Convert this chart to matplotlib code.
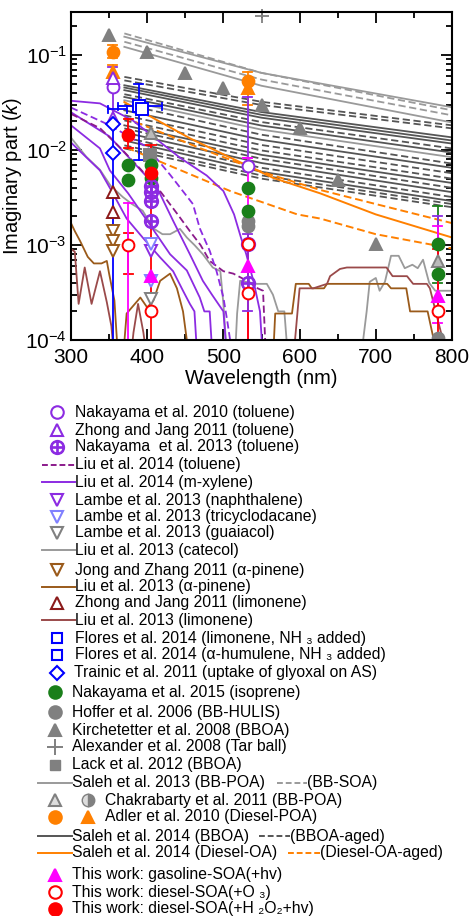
import numpy as np
import matplotlib.pyplot as plt

plt.rcParams['font.family'] = ['Liberation Sans', 'DejaVu Sans']
plt.rcParams['mathtext.fontset'] = 'custom'
plt.rcParams['mathtext.rm'] = 'Liberation Sans'
plt.rcParams['mathtext.it'] = 'Liberation Sans:italic'
plt.rcParams['mathtext.default'] = 'regular'

VIO = '#8c2be2'
DPUR = '#8b1a8b'
LBLUE = '#8080ff'
GRAY = '#808080'
LGRAY = '#9a9a9a'
DGRAY = '#555555'
BROWN = '#9a5a1a'
MAROON = '#8b1a1a'
LIMO = '#9a4a4a'
BLUE = '#0000ff'
GREEN = '#1a7f1a'
ORANGE = '#ff8000'
MAG = '#ff00ff'
RED = '#ff0000'

# ---------------- point data (wavelength nm, k) ----------------
nak10_lam = [355, 532]
nak10_k = [0.046, 0.0068]
zhong_tol_lam = [355, 355]
zhong_tol_k = [0.057, 0.0215]
nak13_lam = [405, 405, 405, 405, 532, 532]
nak13_k = [0.0042, 0.0036, 0.0029, 0.0018, 0.00103, 0.0004]
lambe_naph_lam = [405]
lambe_naph_k = [0.00087]
lambe_tcd_lam = [405, 405]
lambe_tcd_k = [0.00102, 0.00042]
lambe_guai_lam = [405]
lambe_guai_k = [0.00027]
jong_lam = [355, 355, 355]
jong_k = [0.00142, 0.00111, 0.00087]
zhong_lim_lam = [355, 355]
zhong_lim_k = [0.0036, 0.0022]
flores_lam = [389, 393]
flores_k = [0.029, 0.027]
flores_xlo = [362, 349]
flores_xhi = [419, 373]
trainic_lam = [355, 355]
trainic_k = [0.019, 0.0094]
nak15_lam = [375, 375, 405, 405, 532, 532, 781, 781]
nak15_k = [0.0069, 0.0048, 0.0069, 0.0051, 0.0040, 0.0023, 0.00103, 0.0005]
hoffer_lam = [532, 532, 781]
hoffer_k = [0.0018, 0.0016, 0.000105]
kirch_lam = [350, 400, 450, 500, 550, 600, 650, 700]
kirch_k = [0.162, 0.107, 0.064, 0.045, 0.030, 0.017, 0.0048, 0.00103]
alex_lam = [550]
alex_k = [0.26]
lack_lam = [404]
lack_k = [0.0088]
chak_lam = [405, 781]
chak_k = [0.015, 0.00068]
adler_c_lam = [355, 532]
adler_c_k = [0.108, 0.053]
adler_t_lam = [355, 532]
adler_t_k = [0.066, 0.045]
gas_lam = [375, 405, 532, 781]
gas_k = [0.00006, 0.00047, 0.0006, 0.00029]
dso3_lam = [375, 405, 532, 532, 781]
dso3_k = [0.001, 0.0002, 0.00103, 0.00031, 0.0002]
dsh_lam = [375, 405]
dsh_k = [0.0143, 0.0058]

# vertical error bars: wavelength, low, high, colour key
bar_lam = [355, 355, 355, 355, 375, 375, 375, 389, 405, 532, 532, 532, 532, 532, 781, 781, 781, 781]
bar_lo = [0.094, 0.058, 0.019, 0.00001, 0.0105, 0.0005, 0.00001, 0.0078, 0.00001,
          0.030, 0.0083, 0.00001, 0.00001, 0.0002, 0.0004, 0.0002, 0.00015, 0.00001]
bar_hi = [0.127, 0.079, 0.075, 0.019, 0.021, 0.00135, 0.0028, 0.05, 0.0112,
          0.066, 0.036, 0.0083, 0.0023, 0.0013, 0.0026, 0.0020, 0.0016, 0.0009]
bar_col = ['o', 'o', 'v', 'b', 'r', 'r', 'm', 'b', 'r', 'o', 'v', 'm', 'r', 'v', 'g', 'v', 'm', 'r']

# ---------------- line data ----------------
catecol_lam = [300, 320, 338, 352, 368, 380, 394, 408, 420, 430, 443, 452, 462, 473, 486, 496, 500,
               505, 515, 518, 522, 544, 557, 565, 572, 580, 585, 680, 688, 692, 700, 705, 712,
               720, 730, 738, 748, 755, 762, 770, 778, 800]
catecol_k = [0.0135, 0.0085, 0.0062, 0.0042, 0.0032, 0.0027, 0.0023, 0.0015, 0.0013, 0.0013, 0.00148,
             0.0012, 0.001, 0.0008, 0.00058, 0.00053, 0.00024, 0.00006, 0.00006, 0.00019, 0.00042,
             0.00039, 0.00039, 0.0003, 0.0002, 0.0002, 0.00006, 0.00006, 0.0002, 0.00041, 0.00045,
             0.00033, 0.00041, 0.00077, 0.00077, 0.00057, 0.00062, 0.00057, 0.0007, 0.0004, 0.00033, 0.00033]
apin_lam = [300, 305, 312, 322, 330, 340, 347, 350, 357, 362, 368, 373, 391, 400, 408, 417, 430, 439,
            447, 452, 456, 565, 568, 590, 595, 612, 616, 632, 636, 715, 720, 740, 745, 768, 775, 780]
apin_k = [0.0017, 0.0014, 0.0011, 0.00075, 0.00064, 0.00064, 0.00068, 0.0005, 0.00026, 0.00006,
          0.00006, 0.00019, 0.00028, 0.00022, 0.00026, 0.00042, 0.0005, 0.00035, 0.0002, 0.0001,
          0.00006, 0.00006, 0.00019, 0.00019, 0.00039, 0.00039, 0.00035, 0.00035, 0.00039, 0.00039,
          0.00035, 0.00035, 0.0002, 0.0002, 0.00011, 0.00006]
limo_lam = [300, 305, 310, 318, 327, 338, 347, 353, 357, 378, 382, 388, 395, 400, 590, 594, 600, 618,
            636, 640, 653, 662, 714, 722, 741, 749, 767, 771, 780, 788]
limo_k = [0.00091, 0.00085, 0.00024, 0.00058, 0.00024, 0.00053, 0.00025, 0.00014, 0.00006, 0.00006,
          0.00012, 0.00024, 0.00012, 0.00006, 0.00006, 0.0001, 0.00035, 0.00035, 0.00039, 0.00047,
          0.00056, 0.00058, 0.00058, 0.00047, 0.00047, 0.00039, 0.00039, 0.00035, 0.00018, 0.0001]

# Liu 2014 m-xylene (solid)
mx1_lam = [300, 338, 381, 443, 478, 500, 514, 523, 530, 540, 548, 552]
mx1_k = [0.033, 0.031, 0.0205, 0.0083, 0.0054, 0.0037, 0.0021, 0.0012, 0.0008, 0.0004, 0.0002, 0.00006]
mx2_lam = [300, 338, 351, 375, 400, 430, 452, 469, 475, 482, 486]
mx2_k = [0.0182, 0.0104, 0.0061, 0.0035, 0.0018, 0.0008, 0.00054, 0.00028, 0.0002, 0.0002, 0.00006]
mx3_lam = [300, 338, 355, 373, 394, 417, 434, 447, 456, 462, 466]
mx3_k = [0.012, 0.0061, 0.0035, 0.0019, 0.0012, 0.00074, 0.00053, 0.00033, 0.00024, 0.0002, 0.00006]
mx4_lam = [300, 350, 413, 434, 456, 473, 485, 500, 505]
mx4_k = [0.025, 0.014, 0.004, 0.0018, 0.0008, 0.00042, 0.0003, 0.0002, 0.00006]
# Liu 2014 toluene (dashed)
tol1_lam = [300, 338, 365, 392, 418, 440, 456, 470, 482, 500, 513, 531, 545, 552, 556]
tol1_k = [0.024, 0.017, 0.0105, 0.0062, 0.0036, 0.0021, 0.0014, 0.001, 0.00068, 0.00053, 0.0005,
          0.00042, 0.00035, 0.00033, 0.00006]
tol2_lam = [300, 351, 400, 430, 460, 469, 482, 491, 500, 505, 513]
tol2_k = [0.028, 0.0182, 0.0107, 0.0055, 0.0027, 0.0015, 0.00087, 0.00053, 0.00028, 0.00016, 0.00006]

# Saleh power-law lines: k at 370, 550, 800 nm
sal_lam = [370, 550, 800]
sal_k370 = [0.169, 0.156, 0.138, 0.122, 0.0589, 0.0541, 0.0481, 0.0455, 0.0427, 0.0387, 0.0362, 0.0334,
            0.0303, 0.0262, 0.0232, 0.0205, 0.0182, 0.0169, 0.0153, 0.0136, 0.0126, 0.0112, 0.0104]
sal_k550 = [0.0649, 0.0649, 0.0552, 0.0475, 0.0322, 0.0298, 0.0251, 0.0235, 0.0219, 0.0197, 0.0181, 0.0164,
            0.0145, 0.0128, 0.0113, 0.0099, 0.0089, 0.0081, 0.0073, 0.0065, 0.0059, 0.0054, 0.0050]
sal_k800 = [0.0262, 0.0282, 0.0232, 0.0195, 0.0182, 0.0169, 0.0136, 0.0126, 0.0117, 0.0104, 0.0094, 0.0084,
            0.0072, 0.0065, 0.0057, 0.0050, 0.0045, 0.0040, 0.0036, 0.0032, 0.0029, 0.0027, 0.0025]
sal_style = ['ld', 'ls', 'ld', 'ls', 'dd', 'dd', 'ds', 'ds', 'ds', 'dd', 'ds', 'ls',
             'dd', 'ds', 'dd', 'dd', 'ds', 'dd', 'ds', 'dd', 'ds', 'dd', 'dd']

# Saleh 2014 diesel lines
dsl_lam = [370, 456, 565, 627, 700, 800]
dsl_k = [0.032, 0.0133, 0.0051, 0.0035, 0.0021, 0.0012]
dag1_lam = [370, 469, 550, 627, 700, 800]
dag1_k = [0.022, 0.0105, 0.0059, 0.0038, 0.0027, 0.0017]
dag2_lam = [373, 509, 597, 627, 700, 800]
dag2_k = [0.0106, 0.0037, 0.0021, 0.0019, 0.0013, 0.00092]

colmap = {'o': ORANGE, 'v': VIO, 'b': BLUE, 'r': RED, 'm': MAG, 'g': GREEN}

fig = plt.figure(figsize=(4.7, 9.16), dpi=100)
ax = fig.add_axes([71 / 470, 1 - 340 / 916, 381 / 470, 328 / 916])
ax.set_yscale('log')

# gray power-law lines
for a, b, c, s in zip(sal_k370, sal_k550, sal_k800, sal_style):
    col = LGRAY if s[0] == 'l' else DGRAY
    ls = '--' if s[1] == 'd' else '-'
    ax.plot(sal_lam, [a, b, c], color=col, ls=ls, lw=1.3, dashes=(4, 2) if ls == '--' else (None, None))

ax.plot(dsl_lam, dsl_k, color=ORANGE, lw=1.4)
ax.plot(dag1_lam, dag1_k, color=ORANGE, lw=1.4, ls='--', dashes=(4, 2))
ax.plot(dag2_lam, dag2_k, color=ORANGE, lw=1.4, ls='--', dashes=(4, 2))

ax.plot(catecol_lam, catecol_k, color=LGRAY, lw=1.3)
ax.plot(apin_lam, apin_k, color=BROWN, lw=1.3)
ax.plot(limo_lam, limo_k, color=LIMO, lw=1.3)
for lam, k in [(mx1_lam, mx1_k), (mx2_lam, mx2_k), (mx3_lam, mx3_k), (mx4_lam, mx4_k)]:
    ax.plot(lam, k, color=VIO, lw=1.3)
ax.plot(tol1_lam, tol1_k, color=DPUR, lw=1.3, ls='--', dashes=(4, 2))
ax.plot(tol2_lam, tol2_k, color=VIO, lw=1.3, ls='--', dashes=(4, 2))

# error bars
for lam, lo, hi, c in zip(bar_lam, bar_lo, bar_hi, bar_col):
    ax.plot([lam, lam], [lo, hi], color=colmap[c], lw=1.3)
    for y in (lo, hi):
        if y > 1e-4:
            ax.plot([lam - 6, lam + 6], [y, y], color=colmap[c], lw=1.3)
for lam, k, x0, x1 in zip(flores_lam, flores_k, flores_xlo, flores_xhi):
    ax.plot([x0, x1], [k, k], color=BLUE, lw=1.3)
    ax.plot([x0, x0], [k * 0.92, k * 1.08], color=BLUE, lw=1.3)
    ax.plot([x1, x1], [k * 0.92, k * 1.08], color=BLUE, lw=1.3)

ms = 8.5
mk = dict(ls='none', ms=ms, mew=1.4)
ax.plot(kirch_lam, kirch_k, marker='^', color=GRAY, **mk)
ax.plot(alex_lam, alex_k, marker='+', color=GRAY, ms=10, mew=1.3, ls='none', clip_on=False)
ax.plot(lack_lam, lack_k, marker='s', color=GRAY, **mk)
ax.plot(hoffer_lam, hoffer_k, marker='o', color=GRAY, **mk)
ax.plot(chak_lam, chak_k, marker='^', color=GRAY, mfc='#bbbbbb', **mk)
ax.plot(adler_c_lam, adler_c_k, marker='o', color=ORANGE, **mk)
ax.plot(adler_t_lam, adler_t_k, marker='^', color=ORANGE, **mk)
ax.plot(nak15_lam, nak15_k, marker='o', color=GREEN, **mk)
ax.plot(nak10_lam, nak10_k, marker='o', color=VIO, mfc='white', **mk)
ax.plot(zhong_tol_lam, zhong_tol_k, marker='^', color=VIO, mfc='white', **mk)
ax.plot(nak13_lam, nak13_k, marker='$\\oplus$', color=VIO, ls='none', ms=10)
ax.plot(lambe_naph_lam, lambe_naph_k, marker='v', color=VIO, mfc='white', **mk)
ax.plot(lambe_tcd_lam, lambe_tcd_k, marker='v', color=LBLUE, mfc='white', **mk)
ax.plot(lambe_guai_lam, lambe_guai_k, marker='v', color=GRAY, mfc='white', **mk)
ax.plot(jong_lam, jong_k, marker='v', color=BROWN, mfc='white', **mk)
ax.plot(zhong_lim_lam, zhong_lim_k, marker='^', color=MAROON, mfc='white', **mk)
ax.plot(flores_lam, flores_k, marker='s', color=BLUE, mfc='white', **mk)
ax.plot(trainic_lam, trainic_k, marker='D', color=BLUE, mfc='white', ls='none', ms=7.5, mew=1.4)
ax.plot(gas_lam, gas_k, marker='^', color=MAG, **mk)
ax.plot(dso3_lam, dso3_k, marker='o', color=RED, mfc='white', **mk)
ax.plot(dsh_lam, dsh_k, marker='o', color=RED, **mk)

ax.set_xlim(300, 800)
ax.set_ylim(1e-4, 0.284)
ax.set_xticks([300, 400, 500, 600, 700, 800])
ax.set_xticks(np.arange(350, 800, 100), minor=True)
ax.tick_params(which='both', direction='in', top=True, right=True, width=1.3, labelsize=15)
ax.tick_params(which='major', length=8)
ax.tick_params(which='minor', length=4)
ax.tick_params(axis='x', pad=6)
ax.tick_params(axis='y', pad=3)
for sp in ax.spines.values():
    sp.set_linewidth(1.5)
ax.set_xlabel('Wavelength (nm)', fontsize=14.5, labelpad=1)
ax.set_ylabel('Imaginary part ($\\mathit{k}$)', fontsize=14.5, labelpad=1)

# ---------------- legend (drawn in pixel coordinates) ----------------
lx = fig.add_axes([0, 0, 1, 1])
lx.set_xlim(0, 470)
lx.set_ylim(916, 0)
lx.axis('off')
lx.patch.set_alpha(0)

fs = 11.3
mx, tx = 57, 75
lmk = dict(ms=9, mew=1.5, ls='none')


def mark(y, **kw):
    lx.plot([mx], [y], **kw)


def seg(y, x0, x1, **kw):
    lx.plot([x0, x1], [y, y], lw=1.4, **kw)


def txt(x, y, s):
    lx.text(x, y, s, fontsize=fs, va='center', ha='left')


rows = [412, 430, 447, 465, 482, 500, 517, 533, 550, 570, 587, 603, 620, 638,
        655, 673, 692, 712, 730, 747, 765, 783, 800, 817, 836, 853, 875, 892, 909]

mark(rows[0], marker='o', color=VIO, mfc='white', **lmk); txt(tx, rows[0], 'Nakayama et al. 2010 (toluene)')
mark(rows[1], marker='^', color=VIO, mfc='white', **lmk); txt(tx, rows[1], 'Zhong and Jang 2011 (toluene)')
mark(rows[2], marker='$\\oplus$', color=VIO, ms=10, ls='none'); txt(tx, rows[2], 'Nakayama  et al. 2013 (toluene)')
seg(rows[3], 42, 75, color=DPUR, ls='--', dashes=(3, 1.5)); txt(tx, rows[3], 'Liu et al. 2014 (toluene)')
seg(rows[4], 42, 75, color=VIO); txt(tx, rows[4], 'Liu et al. 2014 (m-xylene)')
mark(rows[5], marker='v', color=VIO, mfc='white', **lmk); txt(tx, rows[5], 'Lambe et al. 2013 (naphthalene)')
mark(rows[6], marker='v', color=LBLUE, mfc='white', **lmk); txt(tx, rows[6], 'Lambe et al. 2013 (tricyclodacane)')
mark(rows[7], marker='v', color=GRAY, mfc='white', **lmk); txt(tx, rows[7], 'Lambe et al. 2013 (guaiacol)')
seg(rows[8], 42, 75, color=LGRAY); txt(tx, rows[8], 'Liu et al. 2013 (catecol)')
mark(rows[9], marker='v', color=BROWN, mfc='white', **lmk); txt(tx, rows[9], 'Jong and Zhang 2011 (\u03b1-pinene)')
seg(rows[10], 42, 75, color=BROWN); txt(tx, rows[10], 'Liu et al. 2013 (\u03b1-pinene)')
mark(rows[11], marker='^', color=MAROON, mfc='white', **lmk); txt(tx, rows[11], 'Zhong and Jang 2011 (limonene)')
seg(rows[12], 42, 75, color=LIMO); txt(tx, rows[12], 'Liu et al. 2013 (limonene)')
mark(rows[13], marker='s', color=BLUE, mfc='white', ms=7.5, mew=1.5, ls='none')
txt(tx, rows[13], 'Flores et al. 2014 (limonene, NH \u2083 added)')
mark(rows[14], marker='s', color=BLUE, mfc='white', ms=7.5, mew=1.5, ls='none')
txt(tx, rows[14], 'Flores et al. 2014 (\u03b1-humulene, NH \u2083 added)')
mark(rows[15], marker='D', color=BLUE, mfc='white', ms=7.5, mew=1.5, ls='none')
txt(tx - 1, rows[15], 'Trainic et al. 2011 (uptake of glyoxal on AS)')

mx, tx = 55, 72
mark(rows[16], marker='o', color=GREEN, **lmk); txt(tx, rows[16], 'Nakayama et al. 2015 (isoprene)')
mark(rows[17], marker='o', color=GRAY, **lmk); txt(tx, rows[17], 'Hoffer et al. 2006 (BB-HULIS)')
mark(rows[18], marker='^', color=GRAY, **lmk); txt(tx, rows[18], 'Kirchetetter et al. 2008 (BBOA)')
mark(rows[19], marker='+', color=GRAY, ms=11, mew=1.4, ls='none'); txt(tx, rows[19], 'Alexander et al. 2008 (Tar ball)')
mark(rows[20], marker='s', color=GRAY, ms=7.5, ls='none'); txt(tx, rows[20], 'Lack et al. 2012 (BBOA)')
seg(rows[21], 38, 72, color=LGRAY); txt(tx, rows[21], 'Saleh et al. 2013 (BB-POA)')
seg(rows[21], 277, 307, color=LGRAY, ls='--', dashes=(3, 1.5)); txt(307, rows[21], '(BB-SOA)')
mark(rows[22], marker='^', color=GRAY, mfc='#dddddd', **lmk)
lx.plot([88], [rows[22]], marker='o', color=GRAY, fillstyle='right', mfc=GRAY, mfcalt='#dddddd', ms=9, mew=1.0)
txt(105, rows[22], 'Chakrabarty et al. 2011 (BB-POA)')
mark(rows[23], marker='o', color=ORANGE, **lmk)
lx.plot([88], [rows[23]], marker='^', color=ORANGE, **lmk)
txt(105, rows[23], 'Adler et al. 2010 (Diesel-POA)')
seg(rows[24], 38, 72, color=DGRAY); txt(tx, rows[24], 'Saleh et al. 2014 (BBOA)')
seg(rows[24], 259, 290, color=DGRAY, ls='--', dashes=(3, 1.5)); txt(290, rows[24], '(BBOA-aged)')
seg(rows[25], 38, 72, color=ORANGE); txt(tx, rows[25], 'Saleh et al. 2014 (Diesel-OA)')
seg(rows[25], 288, 320, color=ORANGE, ls='--', dashes=(3, 1.5)); txt(320, rows[25], '(Diesel-OA-aged)')
mark(rows[26], marker='^', color=MAG, **lmk); txt(tx, rows[26], 'This work: gasoline-SOA(+hv)')
mark(rows[27], marker='o', color=RED, mfc='white', **lmk); txt(tx, rows[27], 'This work: diesel-SOA(+O \u2083)')
mark(rows[28], marker='o', color=RED, **lmk); txt(tx, rows[28], 'This work: diesel-SOA(+H \u2082O\u2082+hv)')

fig.savefig('out.png', dpi=100)
